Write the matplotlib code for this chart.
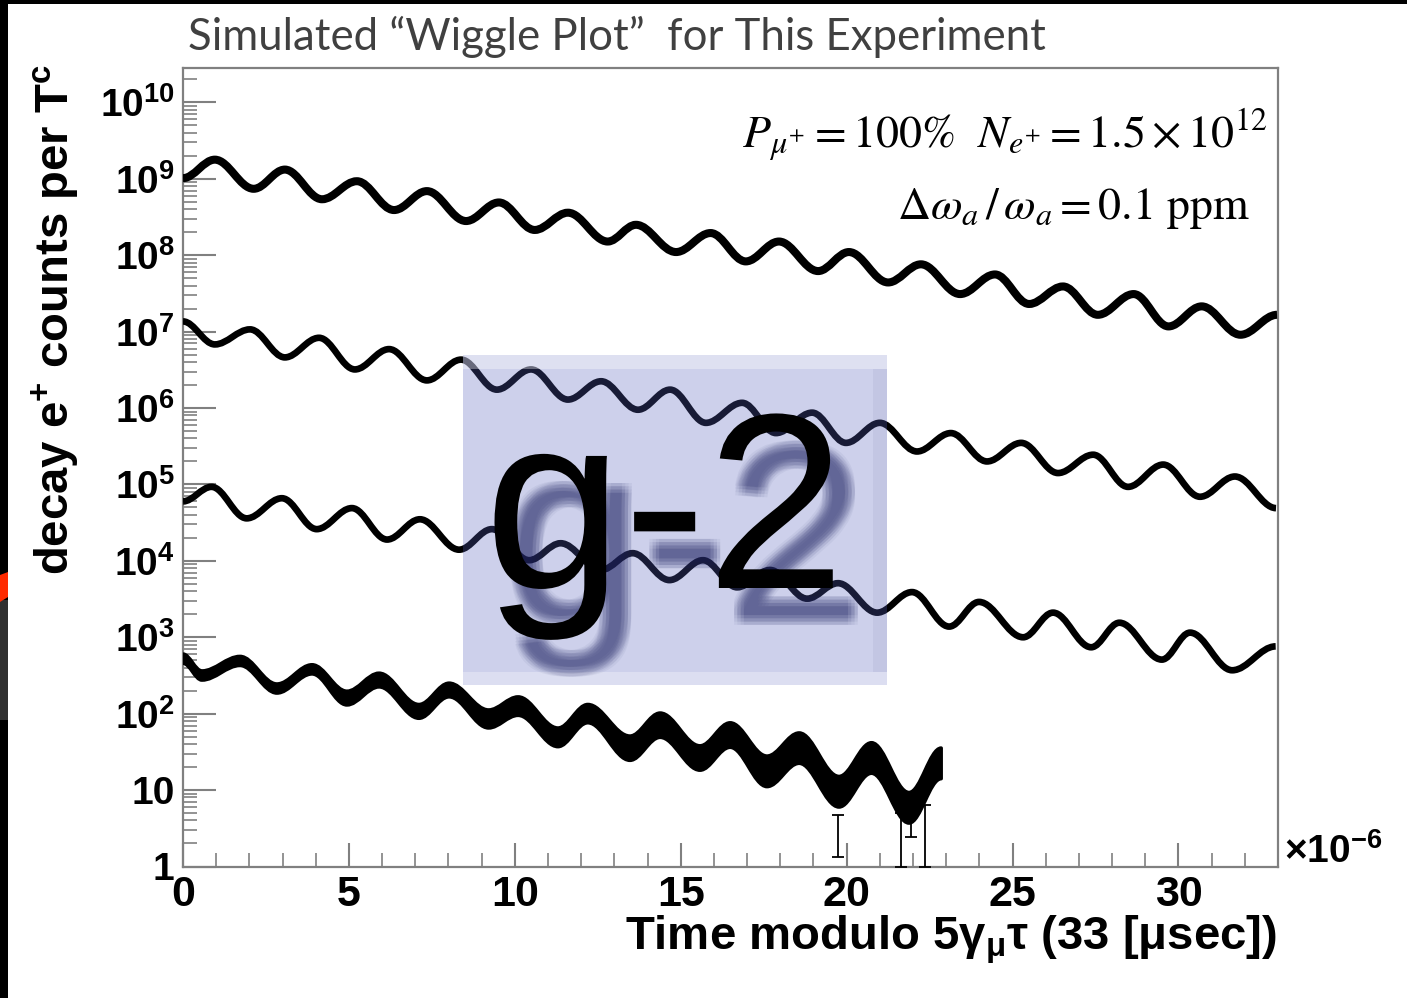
import numpy as np
import matplotlib
matplotlib.use("Agg")
import matplotlib.pyplot as plt
import matplotlib.patheffects as pe
from matplotlib.patches import Rectangle, Polygon, PathPatch
from matplotlib.path import Path
from matplotlib.ticker import LogLocator, NullFormatter, MultipleLocator

# values: time in microseconds, counts per T_c
# (extrema of each wiggle, in order)
t_top = [0.0, 0.96, 2.13, 3.07, 4.19, 5.24, 6.36, 7.35, 8.53, 9.52, 10.6, 11.6,
         12.8, 13.65, 14.86, 15.9, 16.96, 17.96, 19.14, 20.07, 21.25, 22.24,
         23.42, 24.47, 25.5, 26.52, 27.57, 28.65, 29.7, 30.7, 31.87, 32.97]
n_top = [1.02e9, 1.78e9, 7.4e8, 1.32e9, 5.4e8, 9.3e8, 3.9e8, 6.9e8, 2.8e8, 4.9e8,
         2.14e8, 3.6e8, 1.51e8, 2.5e8, 1.10e8, 1.95e8, 8.3e7, 1.51e8, 6.2e7,
         1.10e8, 4.4e7, 7.6e7, 3.1e7, 5.6e7, 2.3e7, 3.9e7, 1.66e7, 3.1e7,
         1.17e7, 2.14e7, 9.1e6, 1.66e7]

t_mid = [0.0, 0.96, 2.02, 3.07, 4.10, 5.18, 6.21, 7.35, 8.38, 9.46, 10.49, 11.6,
         12.6, 13.71, 14.68, 15.76, 16.85, 17.87, 18.96, 19.98, 21.0, 22.12,
         23.14, 24.23, 25.26, 26.37, 27.43, 28.48, 29.54, 30.65, 31.7, 32.94]
n_mid = [1.36e7, 6.8e6, 1.07e7, 4.6e6, 8.3e6, 3.2e6, 5.9e6, 2.3e6, 4.3e6, 1.74e6,
         3.2e6, 1.29e6, 2.24e6, 9.5e5, 1.74e6, 6.4e5, 1.17e6, 4.7e5, 8.7e5,
         3.5e5, 6.4e5, 2.7e5, 4.7e5, 2.0e5, 3.5e5, 1.41e5, 2.45e5, 9.3e4,
         1.82e5, 6.9e4, 1.27e5, 4.9e4]

t_low = [0.0, 0.86, 1.92, 2.98, 4.03, 5.09, 6.15, 7.14, 8.32, 9.31, 10.43, 11.38,
         12.6, 13.55, 14.66, 15.67, 16.70, 17.69, 18.81, 19.74, 20.92, 21.97,
         23.09, 23.99, 25.32, 26.22, 27.37, 28.22, 29.5, 30.35, 31.62, 32.93]
n_low = [6.0e4, 9.3e4, 3.6e4, 6.6e4, 2.6e4, 4.9e4, 1.9e4, 3.5e4, 1.40e4, 2.6e4,
         1.02e4, 1.70e4, 7.6e3, 1.26e4, 5.6e3, 1.02e4, 4.5e3, 7.6e3, 3.2e3,
         5.1e3, 2.1e3, 3.9e3, 1.38e3, 2.9e3, 1.0e3, 2.1e3, 740, 1.55e3, 510,
         1.15e3, 370, 760]

# simulated data: lower and upper edge of the error band
t_sim = [0.0, 0.57, 1.72, 2.83, 3.89, 4.94, 5.91, 7.11, 8.02, 9.21, 10.1, 11.3,
         12.2, 13.47, 14.38, 15.58, 16.49, 17.6, 18.57, 19.77, 20.75, 21.88, 22.85]
lo_sim = [457, 275, 427, 186, 331, 130, 224, 87, 166, 65, 95, 37, 76, 24.5, 49,
          18.2, 36.3, 11.1, 22.4, 6.0, 16.6, 3.7, 14.1]
hi_sim = [603, 363, 562, 245, 437, 197, 339, 132, 251, 112, 166, 65, 132, 51,
          102, 38, 76, 27.9, 56, 15.1, 41.7, 9.3, 35.5]

# a few long error bars near the end of the simulated data
bar_t = [19.74, 21.65, 21.95, 22.37]
bar_lo = [1.33, 1.0, 2.4, 1.0]
bar_hi = [4.7, 5.0, 5.0, 6.3]

x_ticks = [0, 5, 10, 15, 20, 25, 30]
x_tick_labels = ['0', '5', '10', '15', '20', '25', '30']
y_ticks = [1, 10, 1e2, 1e3, 1e4, 1e5, 1e6, 1e7, 1e8, 1e9, 1e10]
y_tick_labels = ['1', '10', '$10^{2}$', '$10^{3}$', '$10^{4}$', '$10^{5}$',
                 '$10^{6}$', '$10^{7}$', '$10^{8}$', '$10^{9}$', '$10^{10}$']

plt.rcParams['font.family'] = ['Liberation Sans', 'DejaVu Sans']
plt.rcParams['mathtext.fontset'] = 'custom'
plt.rcParams['mathtext.rm'] = 'Liberation Sans:bold'
plt.rcParams['mathtext.it'] = 'Liberation Sans:italic:bold'
plt.rcParams['mathtext.bf'] = 'Liberation Sans:bold'
plt.rcParams['mathtext.default'] = 'rm'

W, H = 1407, 998
fig = plt.figure(figsize=(W / 100, H / 100), dpi=100)


def fx(px):
    return px / W


def fy(py):
    return 1 - py / H


def wiggle(ts, ys, k=0.36):
    # smooth curve through the extrema (flat tangents at every point)
    verts = [(ts[0], ys[0])]
    for i in range(1, len(ts)):
        dt = ts[i] - ts[i - 1]
        verts += [(ts[i - 1] + k * dt, ys[i - 1]), (ts[i] - k * dt, ys[i]), (ts[i], ys[i])]
    return verts


def wiggle_path(ts, ys):
    v = wiggle(ts, ys)
    return Path(v, [Path.MOVETO] + [Path.CURVE4] * (len(v) - 1))


ax = fig.add_axes([fx(183), fy(866.5), fx(1278) - fx(183), fy(68) - fy(866.5)])
ax.set_yscale('log')
ax.set_xlim(0, 33)
ax.set_ylim(1, 10 ** 10.45)

for sp in ax.spines.values():
    sp.set_color('#808080')
    sp.set_linewidth(1.6)

for ts, ys, lw in [(t_top, n_top, 5.8), (t_mid, n_mid, 4.8), (t_low, n_low, 4.8)]:
    ax.add_patch(PathPatch(wiggle_path(ts, ys), fill=False, ec='black', lw=lw,
                           joinstyle='round', capstyle='butt', zorder=3))

# error band of the simulated data
up = wiggle(t_sim, hi_sim)
dn = wiggle(t_sim[::-1], lo_sim[::-1])
band = Path(up + dn + [up[0]],
            [Path.MOVETO] + [Path.CURVE4] * (len(up) - 1) + [Path.LINETO]
            + [Path.CURVE4] * (len(dn) - 1) + [Path.CLOSEPOLY])
ax.add_patch(PathPatch(band, fc='black', ec='black', lw=2.5, joinstyle='round', zorder=3))
ax.vlines(bar_t, bar_lo, bar_hi, color='black', lw=1.3, zorder=3)
ax.plot(bar_t, bar_lo, '_', ms=9, mew=1.3, color='black', zorder=3)
ax.plot(bar_t, bar_hi, '_', ms=9, mew=1.3, color='black', zorder=3)

ax.set_xticks(x_ticks, labels=x_tick_labels)
ax.xaxis.set_minor_locator(MultipleLocator(1))
ax.set_yticks(y_ticks, labels=y_tick_labels)
ax.yaxis.set_minor_locator(LogLocator(10, subs=np.arange(2, 10), numticks=50))
ax.yaxis.set_minor_formatter(NullFormatter())

ax.tick_params(which='both', direction='in', top=False, right=False, color='#808080')
ax.tick_params(axis='y', which='major', length=24, width=1.5, labelsize=28, pad=6)
ax.tick_params(axis='y', which='minor', length=10, width=1.2)
ax.tick_params(axis='x', which='major', length=17, width=1.5, labelsize=31, pad=6)
ax.tick_params(axis='x', which='minor', length=10, width=1.2)
for lab in ax.get_xticklabels() + ax.get_yticklabels():
    lab.set_fontweight('bold')

# titles and labels
fig.text(fx(188), fy(50), 'Simulated \u201cWiggle Plot\u201d  for This Experiment',
         fontsize=31.5, family=['Lato', 'DejaVu Sans'], color='#404040', va='baseline')
fig.text(fx(55), fy(320), r'decay e$^{+}$ counts per T$^{c}$', rotation=90,
         fontsize=34, fontweight='bold', ha='center', va='center')
fig.text(fx(1277), fy(950), r'Time modulo 5$\gamma_{\mu}\tau$ (33 [$\mu$sec])',
         ha='right', va='baseline', fontsize=34, fontweight='bold')
fig.text(fx(1284), fy(863), r'$\times$10$^{-6}$', ha='left', va='baseline',
         fontsize=28, fontweight='bold')

fig.text(fx(1268), fy(148),
         r'$\mathit{P}_{\mathit{\mu}^{+}}=100\%\ \ \mathit{N}_{\mathit{e}^{+}}=1.5\times10^{12}$',
         ha='right', va='baseline', fontsize=33, math_fontfamily='stix')
fig.text(fx(1250), fy(219),
         r'$\Delta\mathit{\omega}_{\mathit{a}}\,/\,\mathit{\omega}_{\mathit{a}}=0.1\ \mathrm{ppm}$',
         ha='right', va='baseline', fontsize=33, math_fontfamily='stix')

# g-2 logo box on top of the plot
bx0, bx1, by0, by1 = 463, 887, 355, 685
fig.add_artist(Rectangle((fx(bx0), fy(by1)), fx(bx1) - fx(bx0), fy(by0) - fy(by1),
                         transform=fig.transFigure, color=(0.333, 0.373, 0.733),
                         alpha=0.29, lw=0, zorder=5))
fig.add_artist(Rectangle((fx(bx0), fy(by0 + 14)), fx(bx1) - fx(bx0), 14 / H,
                         transform=fig.transFigure, color='white', alpha=0.35,
                         lw=0, zorder=5))
fig.add_artist(Rectangle((fx(bx0), fy(by1)), fx(bx1) - fx(bx0), 13 / H,
                         transform=fig.transFigure, color='white', alpha=0.3,
                         lw=0, zorder=5))
fig.add_artist(Rectangle((fx(bx1 - 14), fy(by1 - 13)), 14 / W, (by1 - by0 - 27) / H,
                         transform=fig.transFigure, color='#2a2f66', alpha=0.06,
                         lw=0, zorder=5))

# soft shadow (several faint offset copies) behind the logo text
shadow = [pe.SimplePatchShadow(offset=(14.5 + dx, -23 + dy), shadow_rgbFace='#1c2060',
                               alpha=0.05, rho=1.0)
          for dx in (-3.5, -1.2, 1.2, 3.5) for dy in (-3.5, -1.2, 1.2, 3.5)]
fig.text(fx(484), fy(588), 'g-2', fontsize=180, color='black',
         va='baseline', ha='left', zorder=7,
         path_effects=shadow + [pe.Normal()])

# dark slide edges
fig.add_artist(Rectangle((0, fy(4)), 1, 4 / H, transform=fig.transFigure,
                         color='black', lw=0, zorder=8))
fig.add_artist(Rectangle((0, 0), fx(8), 1, transform=fig.transFigure,
                         color='black', lw=0, zorder=8))
fig.add_artist(Rectangle((0, fy(720)), fx(8), 120 / H, transform=fig.transFigure,
                         color='#303030', lw=0, zorder=8))
fig.add_artist(Polygon([(0, fy(575)), (fx(8), fy(572)), (fx(8), fy(597)), (0, fy(602))],
                       closed=True, transform=fig.transFigure, color='#ff2a00',
                       lw=0, zorder=9))

fig.savefig('out.png', dpi=100, facecolor='white')
